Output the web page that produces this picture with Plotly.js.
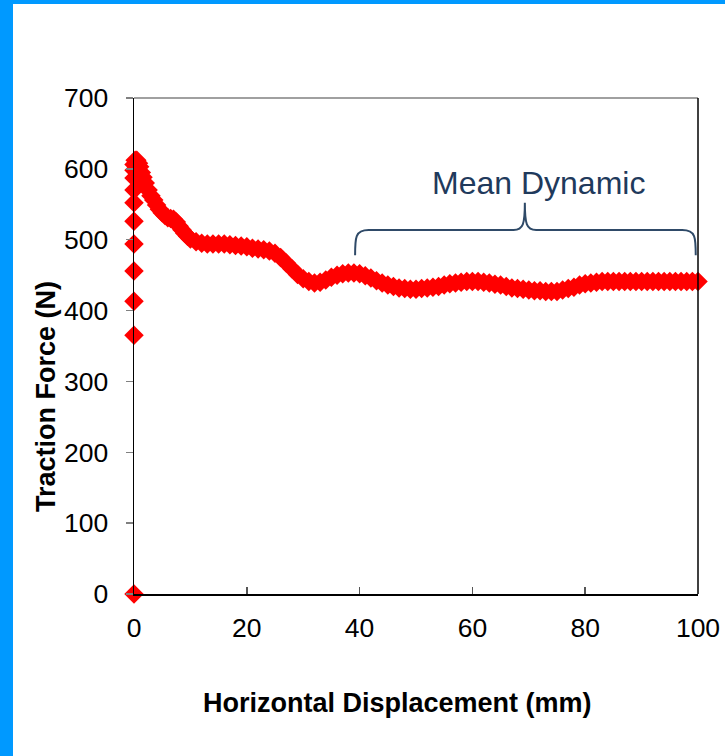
<!DOCTYPE html>
<html>
<head>
<meta charset="utf-8">
<script src="https://cdn.plot.ly/plotly-3.0.1.min.js"></script>
<style>
  html, body { margin: 0; padding: 0; width: 725px; height: 756px; background: #0099FF; overflow: hidden; }
  #chart { position: absolute; left: 13px; top: 4px; width: 712px; height: 752px; background: #ffffff; }
</style>
</head>
<body>
<div id="chart"></div>
<script>
// Horizontal displacement (mm)
const displacement = [
  0, 0, 0, 0, 0, 0, 0, 0, 0, 0, 0,
  0.2, 0.5, 0.8, 1.0, 1.3, 1.6, 2.0, 2.5, 3.0, 3.5, 4.0, 4.5, 5.0, 5.5, 6.0, 6.5, 7.0, 7.5, 8.0, 8.5, 9.0, 9.5, 10.0,
  11, 12, 13, 14, 15, 16, 17, 18, 19, 20,
  21, 22, 23, 24, 25, 26, 27, 28, 29, 30,
  31, 32, 33, 34, 35, 36, 37, 38, 39, 40,
  41, 42, 43, 44, 45, 46, 47, 48, 49, 50,
  51, 52, 53, 54, 55, 56, 57, 58, 59, 60,
  61, 62, 63, 64, 65, 66, 67, 68, 69, 70,
  71, 72, 73, 74, 75, 76, 77, 78, 79, 80,
  81, 82, 83, 84, 85, 86, 87, 88, 89, 90,
  91, 92, 93, 94, 95, 96, 97, 98, 99, 100
];
// Traction force (N)
const tractionForce = [
  0, 365, 413, 456, 494, 526, 552, 570, 587, 598, 606,
  612, 612, 608, 603, 595, 588, 580, 570, 562, 556, 549, 543, 538, 534, 531, 530, 529, 525, 519, 514, 509, 505, 501,
  497, 495, 494, 494, 494, 494, 493, 492, 491, 490,
  488, 487, 486, 484, 481, 475, 467, 459, 451, 445,
  441, 439, 440, 443, 447, 450, 452, 453, 453, 452,
  449, 446, 442, 439, 436, 434, 432, 431, 430, 430,
  431, 432, 433, 434, 436, 438, 439, 440, 441, 441,
  441, 440, 439, 437, 436, 434, 432, 431, 430, 429,
  428, 428, 427, 427, 427, 429, 431, 433, 436, 438,
  439, 440, 441, 441, 441, 441, 441, 441, 441, 441,
  441, 441, 441, 441, 441, 441, 441, 441, 441, 441
];
const xTicks = [0, 20, 40, 60, 80, 100];
const yTicks = [0, 100, 200, 300, 400, 500, 600, 700];
const xTitle = 'Horizontal Displacement (mm)';
const yTitle = 'Traction Force (N)';
const bracketLabel = 'Mean Dynamic';

const FONT = 'Arial, "Liberation Sans", sans-serif';
const braceColor = '#2F4A68';

const trace = {
  type: 'scatter',
  mode: 'markers',
  x: displacement,
  y: tractionForce,
  cliponaxis: false,
  marker: { symbol: 'diamond', size: 15, color: '#FF0000', line: { width: 0 } },
  hoverinfo: 'x+y'
};

const layout = {
  width: 712,
  height: 752,
  margin: { l: 121, r: 27, t: 94, b: 162 },
  paper_bgcolor: '#ffffff',
  plot_bgcolor: '#ffffff',
  showlegend: false,
  font: { family: FONT, color: '#000000' },
  xaxis: {
    range: [0, 100],
    tickvals: xTicks,
    ticktext: xTicks.map(String),
    ticks: 'inside',
    ticklen: 7,
    tickwidth: 1.5,
    tickcolor: '#555555',
    tickfont: { family: FONT, size: 26.5, color: '#000000' },
    ticklabelstandoff: 10,
    showline: true,
    linecolor: '#000000',
    linewidth: 1.5,
    showgrid: false,
    zeroline: false,
    title: { text: '' }
  },
  yaxis: {
    range: [0, 700],
    tickvals: yTicks,
    ticktext: yTicks.map(String),
    ticks: 'outside',
    ticklen: 7,
    tickwidth: 1.5,
    tickcolor: '#808080',
    tickfont: { family: FONT, size: 26.5, color: '#000000' },
    ticklabelstandoff: 12,
    showline: true,
    linecolor: '#000000',
    linewidth: 1.5,
    showgrid: false,
    zeroline: false,
    title: { text: '' }
  },
  shapes: [
    { type: 'line', xref: 'paper', yref: 'paper', x0: 0, x1: 1, y0: 1, y1: 1, line: { color: '#808080', width: 1.5 } },
    { type: 'line', xref: 'paper', yref: 'paper', x0: 1, x1: 1, y0: 0, y1: 1, line: { color: '#000000', width: 1.5 } },
    {
      type: 'path', xref: 'x', yref: 'y',
      path: 'M 39.2,478 C 39.2,503 39.2,513.7 41.6,513.7 L 67.3,513.7 C 69.0,513.7 69.3,522 69.3,552 ' +
            'C 69.3,522 69.6,513.7 71.3,513.7 L 97.2,513.7 C 99.6,513.7 99.6,503 99.6,478',
      line: { color: braceColor, width: 2 }
    }
  ],
  annotations: [
    {
      xref: 'x', yref: 'y', x: 71.8, y: 580,
      text: bracketLabel, showarrow: false,
      font: { family: FONT, size: 32, color: '#1F3A5C' },
      xanchor: 'center', yanchor: 'middle'
    },
    {
      xref: 'paper', yref: 'paper', x: 0.468, y: -0.2198,
      text: '<b>' + xTitle + '</b>', showarrow: false,
      font: { family: FONT, size: 27, color: '#000000' },
      xanchor: 'center', yanchor: 'middle'
    },
    {
      xref: 'paper', yref: 'paper', x: -0.156, y: 0.397,
      text: '<b>' + yTitle + '</b>', showarrow: false, textangle: -90,
      font: { family: FONT, size: 27, color: '#000000' },
      xanchor: 'center', yanchor: 'middle'
    }
  ]
};

Plotly.newPlot('chart', [trace], layout, { displayModeBar: false, staticPlot: true });
</script>
</body>
</html>
